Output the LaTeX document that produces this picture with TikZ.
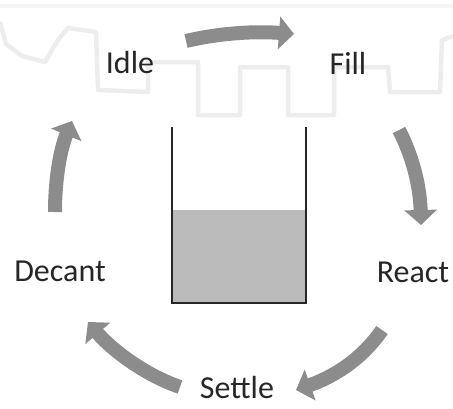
\documentclass[tikz,border=0pt]{standalone}
\usepackage{fontspec}
\setmainfont{Carlito}
\usetikzlibrary{arrows.meta}

\begin{document}
\begin{tikzpicture}[
		x=1pt, y=-1pt,
		font=\fontsize{32}{36}\selectfont,
		stage/.style={anchor=base, inner sep=0pt, text=black!85},
		cyc/.style={draw=black!45, line width=14pt, -{Triangle[length=15pt, width=32pt]}},
		wall/.style={line width=2.4pt, black!85},
		faint/.style={black!7, line width=4.5pt, line join=round}
		]
		\useasboundingbox (0,0) rectangle (453,408);
		
		% 0. Faint background outline
		\draw[faint] (0,22) -- (6,44) -- (22,56) -- (45,62) -- (58,40) -- (68,28) -- (96,32)
			-- (98,90) -- (148,92) -- (148,62) -- (198,62) -- (198,115) -- (240,115)
			-- (240,67) -- (288,67) -- (288,115) -- (334,115) -- (334,67) -- (388,67)
			-- (390,92) -- (440,92) -- (442,40) -- (453,36);
		\draw[faint, black!4] (0,6) -- (453,6);
		
		% 1. Tank
		\fill[black!27] (173,210) rectangle (305,302);
		\draw[wall] (172,127) -- (172,303) -- (306,303) -- (306,127);
		\node[inner sep=0pt] (tank) at (239,215) {};
		
		% 2. Stages
		\node[stage] (idle) at (130,73) {Idle};
		\node[stage] (fill) at (348,74) {Fill};
		\node[stage] (react) at (413,282) {React};
		\node[stage] (settle) at (237,398) {Settle};
		\node[stage] (decant) at (60,281) {Decant};
		
		% 3. Arrow ends
		\coordinate (idle-out) at (186,41);
		\coordinate (fill-in) at (294,34);
		\coordinate (fill-out) at (399,130);
		\coordinate (react-in) at (421,225);
		\coordinate (react-out) at (382,330);
		\coordinate (settle-in) at (296,390);
		\coordinate (settle-out) at (180,387);
		\coordinate (decant-in) at (88,322);
		\coordinate (decant-out) at (55,212);
		\coordinate (idle-in) at (72,121);
		
		% Arrows
		\draw[cyc] (idle-out) .. controls (220,33) and (255,31) .. (fill-in);
		\draw[cyc] (fill-out) .. controls (412,155) and (420,185) .. (react-in);
		\draw[cyc] (react-out) .. controls (360,362) and (330,378) .. (settle-in);
		\draw[cyc] (settle-out) .. controls (145,375) and (112,350) .. (decant-in);
		\draw[cyc] (decant-out) .. controls (55,180) and (60,150) .. (idle-in);
	\end{tikzpicture}
\end{document}
